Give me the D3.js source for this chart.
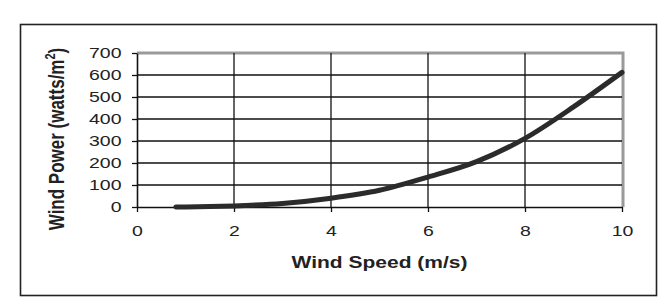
<!DOCTYPE html>
<html><head><meta charset="utf-8">
<script src="https://cdn.jsdelivr.net/npm/d3@7"></script>
<style>html,body{margin:0;padding:0;background:#fff;}svg{display:block;}</style>
</head><body>
<script>
const speeds = [0.8, 1.5, 2, 3, 4, 5, 6, 7, 8, 9, 10];
const powers = [0, 2, 5, 16, 40, 76, 136, 206, 312, 455, 612];
const xTicks = [0, 2, 4, 6, 8, 10];
const yTicks = [0, 100, 200, 300, 400, 500, 600, 700];

const W = 667, H = 301;
const SX = 1.3; // horizontal stretch of the reference text
const FONT = "'Liberation Sans', Arial, sans-serif";
const svg = d3.select("body").append("svg").attr("width", W).attr("height", H);
svg.append("rect").attr("width", W).attr("height", H).attr("fill", "#fff");

// outer frame
svg.append("rect").attr("x", 20.5).attr("y", 24.5).attr("width", 636).attr("height", 271)
  .attr("fill", "none").attr("stroke", "#222").attr("stroke-width", 1.6);

const L = 137, R = 622, T = 53, B = 207;
const x = d3.scaleLinear().domain([0, 10]).range([L, R]);
const y = d3.scaleLinear().domain([0, 700]).range([B, T]);

// plot border (gray top/right)
svg.append("path").attr("d", `M${L},${T} H${R+1} V${B}`).attr("fill", "none")
  .attr("stroke", "#9a9a9a").attr("stroke-width", 3);

// grid
const g = svg.append("g");
g.selectAll(".hg").data(yTicks.filter(d => d > 0 && d < 700)).join("line")
  .attr("x1", L).attr("x2", R).attr("y1", d => y(d)).attr("y2", d => y(d))
  .attr("stroke", "#111").attr("stroke-width", 1.3);
g.selectAll(".vg").data(xTicks.filter(d => d > 0 && d < 10)).join("line")
  .attr("y1", T).attr("y2", B).attr("x1", d => x(d)).attr("x2", d => x(d))
  .attr("stroke", "#111").attr("stroke-width", 1.3);

// axes
const xAxis = svg.append("g").attr("transform", `translate(0,${B})`)
  .call(d3.axisBottom(x).tickValues(xTicks).tickSize(5).tickPadding(13).tickSizeOuter(0));
const yAxis = svg.append("g").attr("transform", `translate(${L},0)`)
  .call(d3.axisLeft(y).tickValues(yTicks).tickSize(5).tickPadding(5).tickSizeOuter(0));
[xAxis, yAxis].forEach(a => {
  a.select(".domain").attr("stroke", "#111").attr("stroke-width", 1.6);
  a.selectAll(".tick line").attr("stroke", "#111").attr("stroke-width", 1.3);
  a.selectAll(".tick text").attr("fill", "#222").attr("font-family", FONT).attr("font-size", 15)
    .attr("transform", `scale(${SX},1)`);
});
yAxis.selectAll(".tick text").attr("x", -15.5 / SX);

// curve
const line = d3.line().x((d, i) => x(speeds[i])).y(d => y(d)).curve(d3.curveMonotoneX);
svg.append("path").datum(powers).attr("d", line).attr("fill", "none")
  .attr("stroke", "#2b2b2b").attr("stroke-width", 5).attr("stroke-linecap", "round");

// titles
svg.append("text").attr("transform", `translate(${(L + R) / 2},268) scale(${SX * 0.95},1)`)
  .attr("text-anchor", "middle").attr("font-family", FONT).attr("font-weight", "bold")
  .attr("font-size", 17).attr("fill", "#222").text("Wind Speed (m/s)");

const yt = svg.append("text").attr("transform", `translate(64,139) scale(${SX},1) rotate(-90)`)
  .attr("text-anchor", "middle").attr("font-family", FONT)
  .attr("font-weight", "bold").attr("font-size", 17).attr("fill", "#222");
yt.append("tspan").text("Wind Power (watts/m");
yt.append("tspan").attr("font-size", 11).attr("dy", -7).text("2");
yt.append("tspan").attr("dy", 7).text(")");
</script>
</body></html>
